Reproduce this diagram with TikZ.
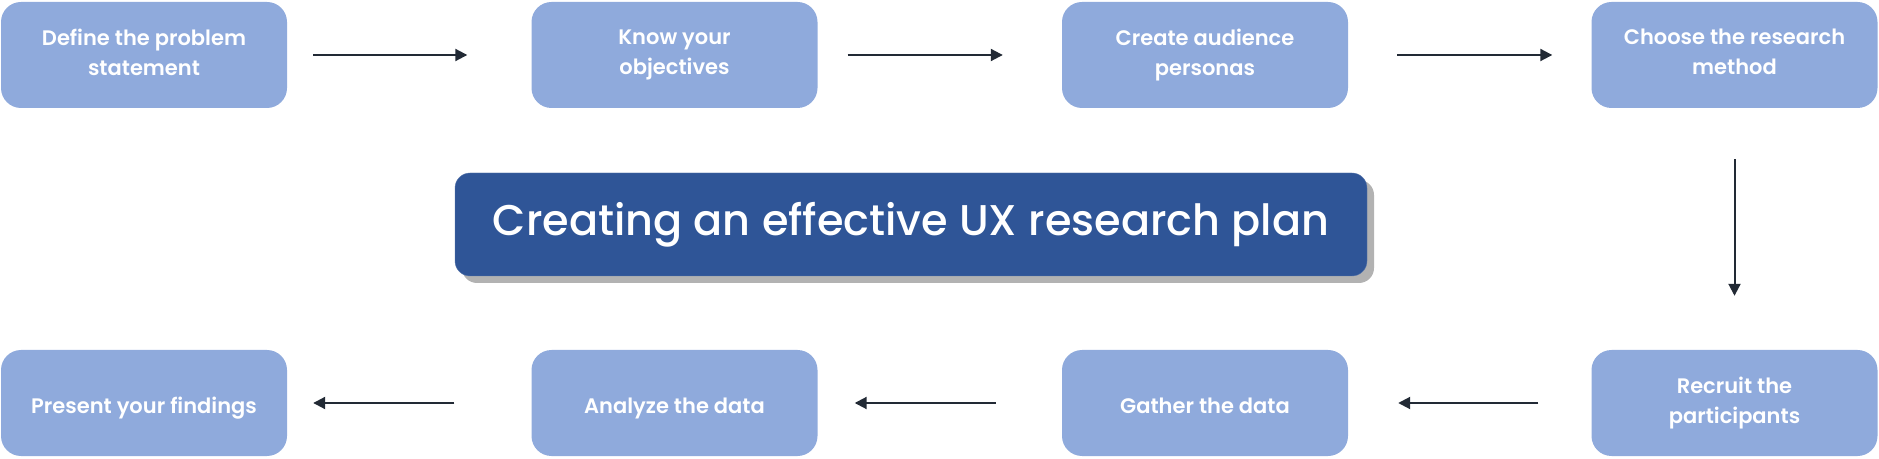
\documentclass[tikz,border=0pt]{standalone}
\usepackage{fontspec}
\newfontfamily\boxfont{Poppins SemiBold}
\newfontfamily\titlefont{Poppins Medium}
\usepackage{tikz}
\usetikzlibrary{arrows.meta, shadows}

\definecolor{stepblue}{HTML}{8FAADC}
\definecolor{titleblue}{HTML}{2F5597}
\definecolor{arrowgray}{HTML}{222A35}

\tikzset{
  stepbox/.style = {fill=stepblue, rounded corners=20pt, minimum width=286pt, minimum height=106pt,
    inner sep=0pt, align=center, text=white, font=\boxfont\fontsize{21}{30}\selectfont,
    execute at begin node=\rule{0pt}{26pt}, execute at end node=\rule[-6pt]{0pt}{6pt}},
  flow/.style = {arrowgray, line width=2pt, -{Triangle[length=12pt, width=12pt]}}
}

\begin{document}
\begin{tikzpicture}[x=1pt, y=1pt]
\useasboundingbox (0, 0) rectangle (1879, 458);

\node (define) at (144, 403) [stepbox] {Define the problem\\statement};
\node (objectives) at (674.5, 403) [stepbox] {Know your\\objectives};
\node (personas) at (1205, 403) [stepbox] {Create audience\\personas};
\node (method) at (1734.5, 403) [stepbox] {Choose the research\\method};

\node (recruit) at (1734.5, 55) [stepbox] {Recruit the\\participants};
\node (gather) at (1205, 55) [stepbox] {Gather the data};
\node (analyze) at (674.5, 55) [stepbox] {Analyze the data};
\node (present) at (144, 55) [stepbox] {Present your findings};

\node (title) at (911, 233.5) [fill=titleblue, draw=titleblue!80!white, rounded corners=15pt,
  minimum width=912pt, minimum height=103pt, text=white, font=\titlefont\fontsize{43}{45}\selectfont,
  drop shadow={shadow xshift=7pt, shadow yshift=-7pt, fill=black, opacity=0.3}]
  {Creating an effective UX research plan};

\draw[flow, shorten <=26pt, shorten >=64pt] (define) -- (objectives);
\draw[flow, shorten <=30pt, shorten >=59pt] (objectives) -- (personas);
\draw[flow, shorten <=49pt, shorten >=39pt] (personas) -- (method);
\draw[flow, shorten <=51pt, shorten >=54pt] (method) -- (recruit);
\draw[flow, shorten <=53pt, shorten >=50pt] (recruit) -- (gather);
\draw[flow, shorten <=66pt, shorten >=37pt] (gather) -- (analyze);
\draw[flow, shorten <=77pt, shorten >=26pt] (analyze) -- (present);

\end{tikzpicture}
\end{document}
